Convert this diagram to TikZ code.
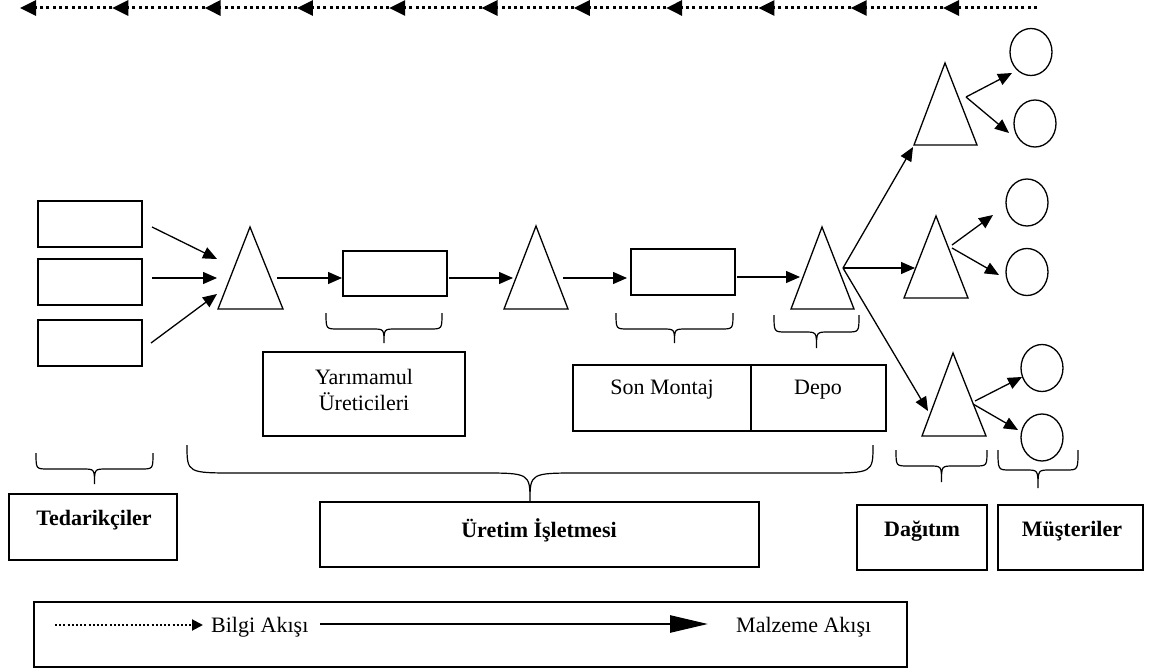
\documentclass[tikz,border=0pt]{standalone}
\usepackage{fontspec}
\setmainfont{Liberation Serif}
\usetikzlibrary{arrows.meta,shapes.geometric}

% rectangle node from its two corners: name, x1, y1, x2, y2
\newcommand\mkbox[5]{%
  \node[box, minimum width={(#4-#2)*1pt}, minimum height={(#5-#3)*1pt}]
    (#1) at ({(#2+#4)/2},{(#3+#5)/2}) {};}

% downward curly brace: x left, x right, y top, y middle, y tip, curl size
\newcommand\downbrace[6]{%
  \draw[braceline] (#1,#3) .. controls (#1,#4) .. ({#1+#6},#4)
    -- ({(#1+#2)/2-#6},#4) .. controls ({(#1+#2)/2},#4) .. ({(#1+#2)/2},#5)
    .. controls ({(#1+#2)/2},#4) .. ({(#1+#2)/2+#6},#4)
    -- ({#2-#6},#4) .. controls (#2,#4) .. (#2,#3);}

\begin{document}
\begin{tikzpicture}[x=1pt, y=-1pt,
  font=\fontsize{22}{26}\selectfont,
  box/.style={draw, line width=1.3pt, inner sep=0pt},
  label/.style={inner sep=0pt, align=center},
  bold/.style={label, font=\fontsize{22}{26}\selectfont\bfseries},
  shape line/.style={draw, line width=1.3pt, line join=miter},
  braceline/.style={line width=1.2pt},
  flow/.style={line width=1.3pt, -{Triangle[length=14pt, width=12pt]}},
  info/.style={line width=3pt, dash pattern=on 3pt off 3.3pt,
    -{Triangle[length=16pt, width=15pt]}},
  infokey/.style={line width=2pt, dash pattern=on 2pt off 2.2pt,
    -{Triangle[length=11pt, width=11pt]}},
  flowkey/.style={line width=2.6pt, -{Triangle[length=38pt, width=17pt]}},
  customer/.style={draw, ellipse, line width=1.3pt, inner sep=0pt,
    minimum width=42pt, minimum height=47pt}]

\useasboundingbox (0,0) rectangle (1159,671);

% ---- information flow along the top (right to left)
\foreach \i in {0,...,10} \coordinate (h\i) at ({20+92.3*\i},8);
\coordinate (hend) at (1037,8);
\foreach \i [evaluate=\i as \j using int(\i+1)] in {0,...,9}
  \draw[info] (h\j) -- (h\i);
\draw[info] (hend) -- (h10);

% ---- suppliers
\mkbox{s1}{38}{201}{142}{247}
\mkbox{s2}{38}{259}{142}{305}
\mkbox{s3}{38}{320}{142}{366}

% ---- stock points (triangles)
\draw[shape line] (250,227) -- (283,309) -- (218,309) -- cycle;
\draw[shape line] (536,226) -- (568,309) -- (504,309) -- cycle;
\draw[shape line] (822,227) -- (854,309) -- (791,309) -- cycle;
\draw[shape line] (945,63) -- (977,145) -- (914,145) -- cycle;
\draw[shape line] (936,216) -- (968,298) -- (904,298) -- cycle;
\draw[shape line] (953,353) -- (986,436) -- (922,436) -- cycle;

% ---- production stages
\mkbox{b1}{343}{251}{447}{296}
\mkbox{b2}{631}{249}{735}{295}

% ---- customers
\node[customer] (k1) at (1031,52) {};
\node[customer] (k2) at (1035,123.5) {};
\node[customer] (k3) at (1027,202.5) {};
\node[customer] (k4) at (1027,272) {};
\node[customer] (k5) at (1042,368) {};
\node[customer] (k6) at (1042,437.5) {};

% ---- material flow connectors
\coordinate (a1s) at (152,227); \coordinate (a1e) at (217,259);
\coordinate (a2s) at (152,278); \coordinate (a2e) at (217,278);
\coordinate (a3s) at (151,343); \coordinate (a3e) at (217,294);
\coordinate (a4s) at (277,278); \coordinate (a4e) at (342,278);
\coordinate (a5s) at (449,278); \coordinate (a5e) at (513,278);
\coordinate (a6s) at (563,278); \coordinate (a6e) at (627,278);
\coordinate (a7s) at (737,277); \coordinate (a7e) at (800,277);
\coordinate (fork) at (843,268);
\coordinate (du) at (913,147); \coordinate (dm) at (915,268); \coordinate (dl) at (928,411);
\coordinate (ou) at (966,97); \coordinate (cu1) at (1012,73); \coordinate (cu2) at (1009,133);
\coordinate (om1) at (952,245); \coordinate (om2) at (952,248);
\coordinate (cm1) at (993,215); \coordinate (cm2) at (999,275);
\coordinate (ol1) at (975,401); \coordinate (ol2) at (973,404);
\coordinate (cl1) at (1022,377); \coordinate (cl2) at (1018,430);

\draw[flow] (a1s) -- (a1e);
\draw[flow] (a2s) -- (a2e);
\draw[flow] (a3s) -- (a3e);
\draw[flow] (a4s) -- (a4e);
\draw[flow] (a5s) -- (a5e);
\draw[flow] (a6s) -- (a6e);
\draw[flow] (a7s) -- (a7e);
\draw[flow] (fork) -- (du);
\draw[flow] (fork) -- (dm);
\draw[flow] (fork) -- (dl);
\draw[flow] (ou) -- (cu1);
\draw[flow] (ou) -- (cu2);
\draw[flow] (om1) -- (cm1);
\draw[flow] (om2) -- (cm2);
\draw[flow] (ol1) -- (cl1);
\draw[flow] (ol2) -- (cl2);

% ---- braces
\downbrace{326}{442}{313}{329}{343}{12}
\downbrace{616}{733}{313}{329}{343}{12}
\downbrace{774}{859}{315}{332}{348}{12}
\downbrace{36}{153}{453}{469}{484}{12}
\downbrace{187}{873}{445}{473}{502}{50}
\downbrace{896}{987}{450}{466}{482}{12}
\downbrace{998}{1078}{450}{470}{488}{12}

% ---- stage labels
\mkbox{yar}{263}{352}{465}{436}
\node[label] (yart) at (364,390) {Yarımamul\\Üreticileri};
\mkbox{son}{573}{365}{751}{431}
\node[label] (sont) at (662,390) {Son Montaj};
\mkbox{depo}{751}{365}{886}{431}
\node[label] (depot) at (818,390) {Depo};

\mkbox{ted}{9}{494}{177}{560}
\node[bold] (tedt) at (94,520) {Tedarikçiler};
\mkbox{ure}{320}{502}{759}{567}
\node[bold] (uret) at (539,530) {Üretim İşletmesi};
\mkbox{dag}{857}{505}{987}{570}
\node[bold] (dagt) at (922,531) {Dağıtım};
\mkbox{mus}{998}{505}{1143}{570}
\node[bold] (must) at (1072,531) {Müşteriler};

% ---- key
\mkbox{key}{34}{602}{907}{667}
\coordinate (ki1) at (55,625); \coordinate (ki2) at (203,625);
\draw[infokey] (ki1) -- (ki2);
\node[label, anchor=west] (kit) at (211,627) {Bilgi Akışı};
\coordinate (km1) at (320,624); \coordinate (km2) at (708,624);
\draw[flowkey] (km1) -- (km2);
\node[label, anchor=west] (kmt) at (736,627) {Malzeme Akışı};
\end{tikzpicture}
\end{document}
